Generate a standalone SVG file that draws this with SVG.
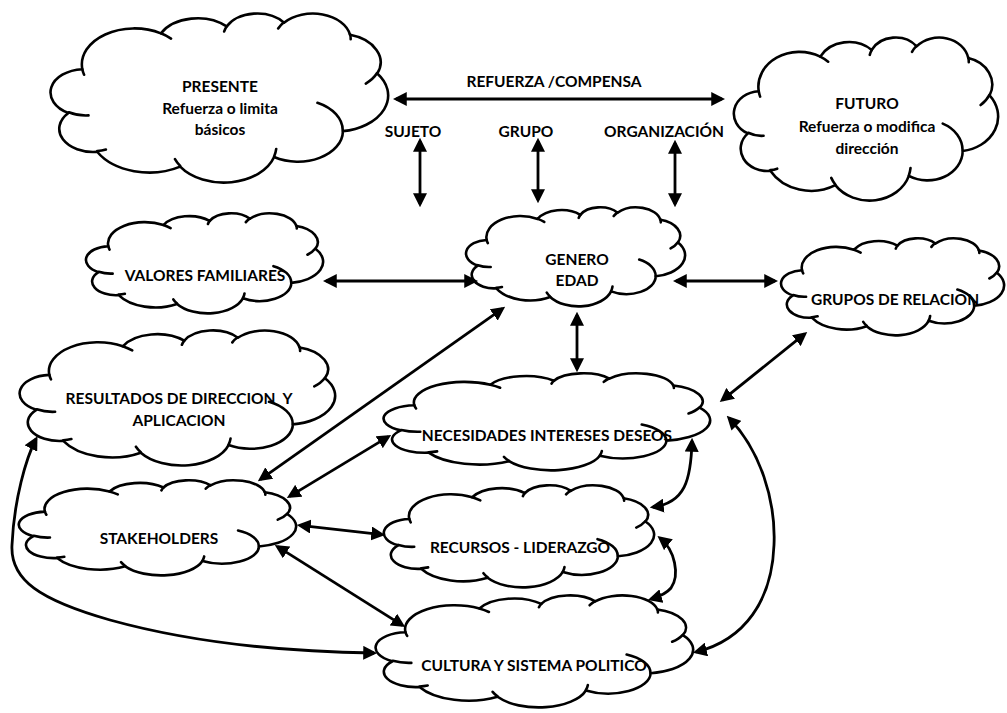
<svg xmlns="http://www.w3.org/2000/svg" xmlns:xlink="http://www.w3.org/1999/xlink" width="1007" height="713" viewBox="0 0 1007 713">
  <style>
    .outline { fill: #fff; stroke: #000; stroke-width: 2.6; vector-effect: non-scaling-stroke; stroke-linejoin: round; }
    .tick { fill: none; stroke: #000; stroke-width: 2.6; vector-effect: non-scaling-stroke; stroke-linecap: round; }
    .lbl { font-family: Lato, "Liberation Sans", sans-serif; font-weight: 700; font-size: 15.5px; fill: #000; text-anchor: middle; white-space: pre; }
    .link { fill: none; stroke: #000; stroke-width: 2.8; marker-start: url(#head); marker-end: url(#head); }
  </style>
  <defs>
    <!-- cloud outline on a 100 x 100 box, stretched per node -->
    <g id="cloud">
      <path class="outline" d="M9.03,33.26 A15.63,21.27 0 0 1 32.42,12.04 A12.34,16.82 0 0 1 51.98,7.95 A10.10,13.76 0 0 1 69.06,5.75 A11.24,15.27 0 0 1 88.70,12.91 A12.34,16.84 0 0 1 96.80,35.79 A15.68,21.34 0 0 1 86.58,69.92 A13.39,18.21 0 0 1 66.10,85.22 A15.63,21.33 0 0 1 38.15,90.90 A17.87,24.41 0 0 1 13.44,82.11 A10.09,13.70 0 0 1 4.89,59.14 A10.06,13.76 0 0 1 9.03,33.26 Z"/>
      <path class="tick" d="M10.86,60.59 A10.06,13.76 0 0 1 5.00,58.75 M16.04,80.78 A10.09,13.70 0 0 1 13.47,81.67 M38.14,90.49 A15.63,21.33 0 0 1 36.60,86.45 M66.73,80.44 A15.63,21.33 0 0 1 66.11,84.86 M79.00,53.13 A13.39,18.21 0 0 1 86.53,69.65 M96.75,35.54 A12.34,16.84 0 0 1 93.40,41.74 M88.71,12.56 A11.24,15.27 0 0 1 88.89,15.49 M67.31,9.15 A11.24,15.27 0 0 1 69.03,5.41 M51.25,10.93 A10.10,13.76 0 0 1 52.08,7.71 M32.41,12.02 A15.63,21.27 0 0 1 35.42,15.14 M9.55,36.55 A15.63,21.27 0 0 1 9.03,33.26"/>
    </g>
    <marker id="head" markerUnits="userSpaceOnUse" markerWidth="14" markerHeight="14" viewBox="0 0 13 13" refX="10" refY="6.5" orient="auto-start-reverse">
      <path d="M0,0 L13,6.5 L0,13 Z" fill="#000"/>
    </marker>
  </defs>

  <g id="presente">
    <use xlink:href="#cloud" transform="translate(52,13) scale(3.36,1.69)"/>
    <text class="lbl" x="220" y="92">PRESENTE</text>
    <text class="lbl" x="220" y="114">Refuerza o limita</text>
    <text class="lbl" x="220" y="135">básicos</text>
  </g>
  <g id="futuro">
    <use xlink:href="#cloud" transform="translate(735,37) scale(2.63,1.63)"/>
    <text class="lbl" x="867" y="109">FUTURO</text>
    <text class="lbl" x="867" y="132">Refuerza o modifica</text>
    <text class="lbl" x="867" y="154">dirección</text>
  </g>
  <g id="valores">
    <use xlink:href="#cloud" transform="translate(87,213) scale(2.36,1.00)"/>
    <text class="lbl" x="205" y="281">VALORES FAMILIARES</text>
  </g>
  <g id="genero">
    <use xlink:href="#cloud" transform="translate(467,207) scale(2.18,0.99)"/>
    <text class="lbl" x="577" y="265">GENERO</text>
    <text class="lbl" x="577" y="286">EDAD</text>
  </g>
  <g id="grupos">
    <use xlink:href="#cloud" transform="translate(782,238) scale(2.22,0.97)"/>
    <text class="lbl" x="895" y="305">GRUPOS DE RELACION</text>
  </g>
  <g id="resultados">
    <use xlink:href="#cloud" transform="translate(21,330) scale(3.14,1.35)"/>
    <text class="lbl" x="179" y="404">RESULTADOS DE DIRECCION  Y</text>
    <text class="lbl" x="179" y="426">APLICACION</text>
  </g>
  <g id="necesidades">
    <use xlink:href="#cloud" transform="translate(385,373) scale(3.25,0.97)"/>
    <text class="lbl" x="547" y="441">NECESIDADES INTERESES DESEOS</text>
  </g>
  <g id="stakeholders">
    <use xlink:href="#cloud" transform="translate(20,480) scale(2.76,0.95)"/>
    <text class="lbl" x="159" y="544">STAKEHOLDERS</text>
  </g>
  <g id="recursos">
    <use xlink:href="#cloud" transform="translate(385,485) scale(2.69,1.02)"/>
    <text class="lbl" x="520" y="553">RECURSOS - LIDERAZGO</text>
  </g>
  <g id="cultura">
    <use xlink:href="#cloud" transform="translate(377,595) scale(3.16,1.12)"/>
    <text class="lbl" x="534" y="671">CULTURA Y SISTEMA POLITICO</text>
  </g>

  <g id="labels">
    <text class="lbl" x="554" y="87">REFUERZA /COMPENSA</text>
    <text class="lbl" x="413" y="137">SUJETO</text>
    <text class="lbl" x="526" y="137">GRUPO</text>
    <text class="lbl" x="664" y="137">ORGANIZACIÓN</text>
  </g>

  <g id="connectors">
    <path class="link" d="M396,99 H722"/>
    <path class="link" d="M420,141 V204"/>
    <path class="link" d="M538,141 V200"/>
    <path class="link" d="M675,143 V204"/>
    <path class="link" d="M326,281 H475"/>
    <path class="link" d="M676,281 H775"/>
    <path class="link" d="M577,315 V369"/>
    <path class="link" d="M502.5,308.7 L260.5,479.3"/>
    <path class="link" d="M388.4,436.6 L289.6,496.4"/>
    <path class="link" d="M300,525.3 L382,534.7"/>
    <path class="link" d="M277.5,546.6 L402.5,625.4"/>
    <path class="link" d="M804.7,333.9 L722.3,400.1"/>
    <path class="link" d="M36,439 C26,458 14,500 12,545 C10,580 40,600 110,620 C200,645 300,652 374,653"/>
    <path class="link" d="M729,418 C760,450 776,500 774,545 C772,600 745,640 696,652"/>
    <path class="link" d="M692,441 C691,480 685,503 653,507"/>
    <path class="link" d="M660,538 C675,550 680,575 671,588 C666,594 658,597 651,599"/>
  </g>
</svg>
